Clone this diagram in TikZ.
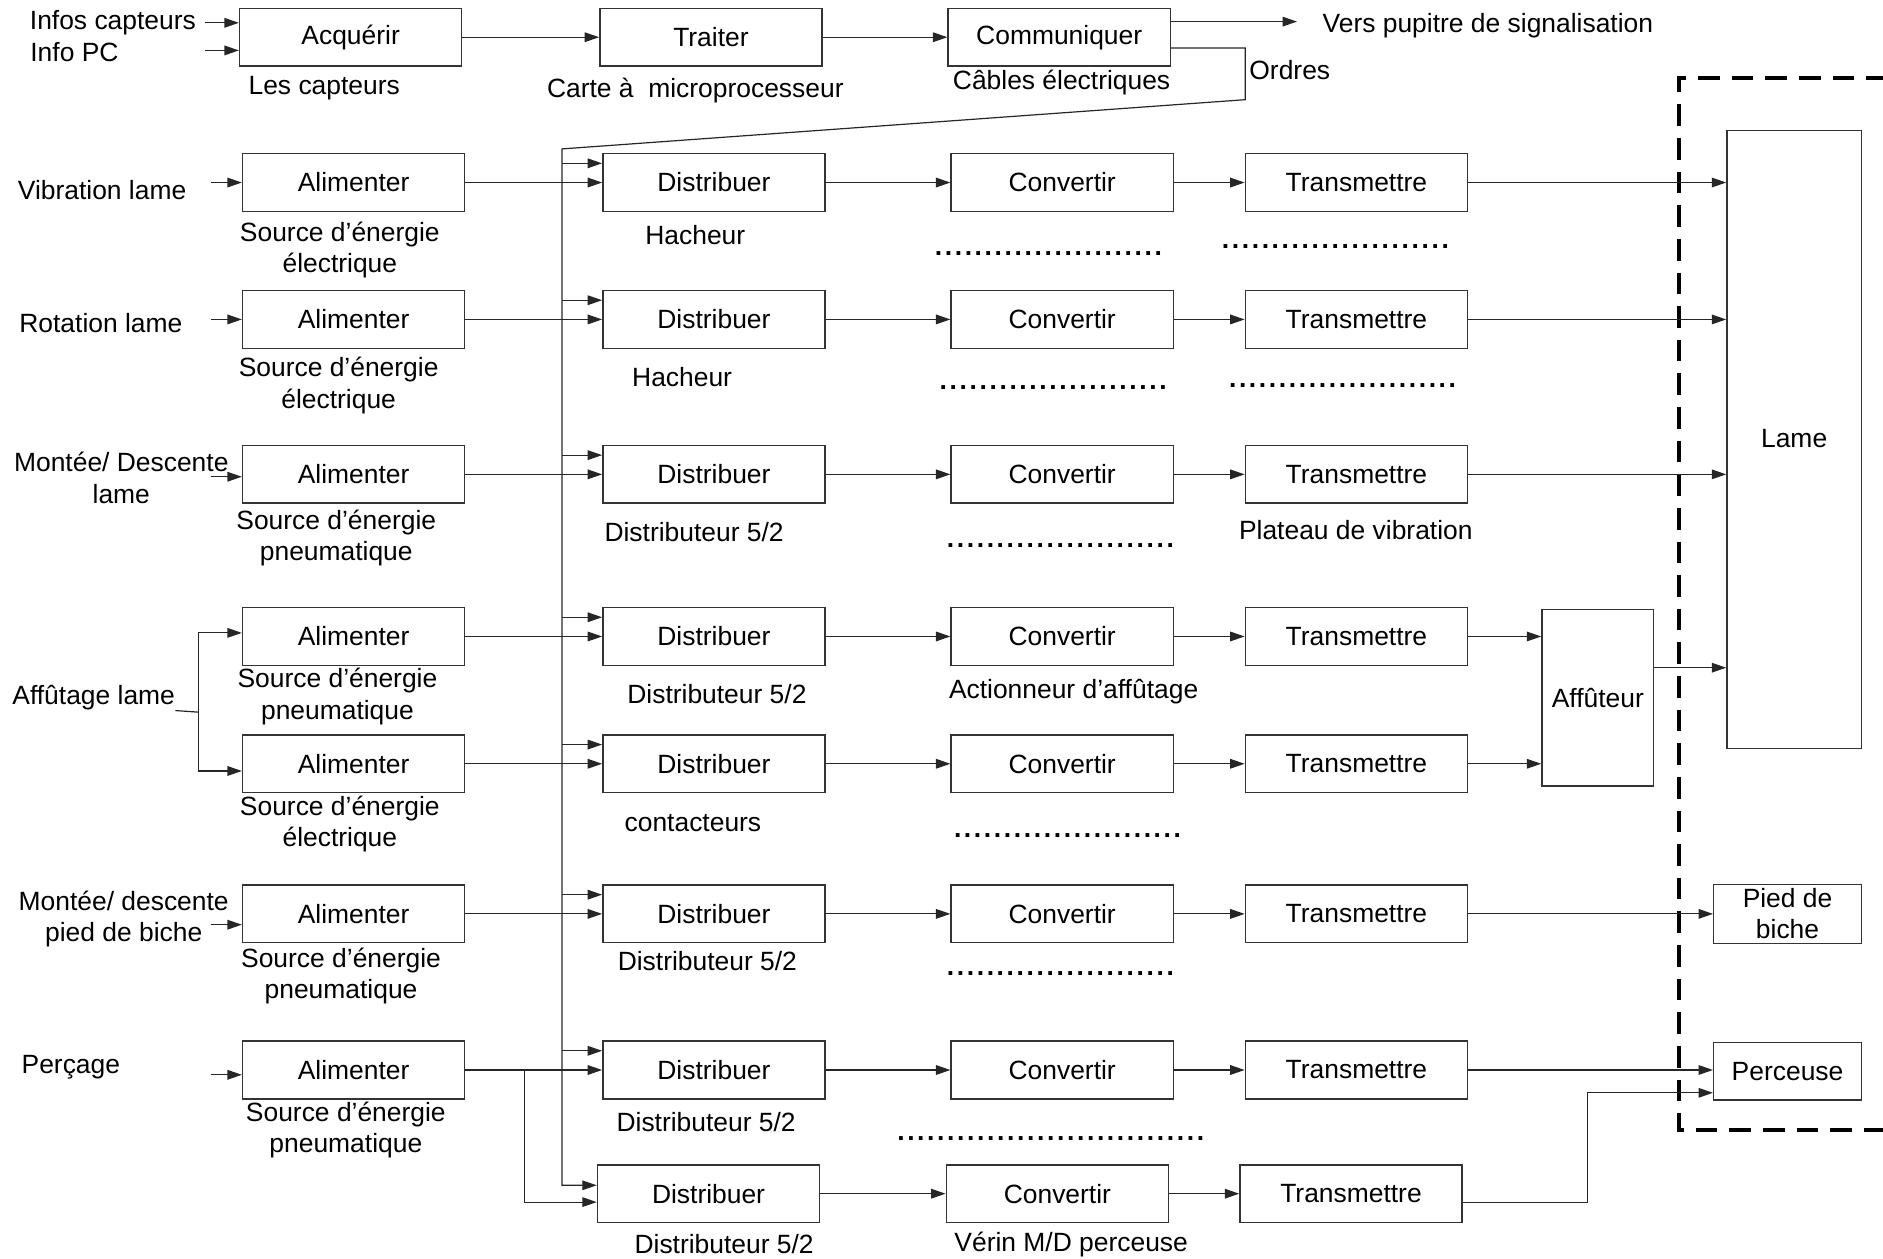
\documentclass[tikz,border=0pt]{standalone}
\usepackage{fontspec}
\setmainfont{Liberation Sans}
\usetikzlibrary{arrows.meta,calc}

\tikzset{
  bloc/.style={draw=black!80,line width=0.6pt,minimum width=92.5pt,minimum height=24pt,inner sep=0pt},
  fl/.style={-{Triangle[length=6pt,width=4pt]},line width=0.5pt,draw=black!85},
  trait/.style={line width=0.5pt,draw=black!85},
  txt/.style={inner sep=0pt,align=center},
  pts/.style={inner sep=0pt,font=\fontsize{11}{13}\selectfont\bfseries},
  cadre/.style={line width=1.4pt,dash pattern=on 9pt off 5pt},
}
\newcommand\pointilles[1]{\foreach \k in {1,...,#1}{.\kern1.1pt}}

\begin{document}
\begin{tikzpicture}[x=0.5pt,y=-0.5pt,font=\fontsize{11}{13}\selectfont]
\useasboundingbox (0,0) rectangle (1568,1048);

% chaine d'information
\node[bloc] (acq) at (292,31) {Acquérir};
\node[bloc] (trt) at (592,31) {Traiter};
\node[bloc] (com) at (882,31) {Communiquer};
\node[txt] (cap1) at (94,19) {Infos capteurs};
\node[txt] (cap2) at (62,43) {Info PC};
\node[txt] (lcap) at (270,73) {Les capteurs};
\node[txt] (lcar) at (579,75) {Carte à\ \ microprocesseur};
\node[txt] (lcab) at (884,69) {Câbles électriques};
\node[txt,anchor=west] (pup) at (1101,21) {Vers pupitre de signalisation};
\node[txt,anchor=west] (ordr) at (1040,58) {Ordres};
\coordinate (vp) at (1080,18);
\coordinate (ord) at (1037,83);
\coordinate (bh) at (468,124);

\draw[fl] ([xshift=-14pt,yshift=6pt]acq.west) -- ([yshift=6pt]acq.west);
\draw[fl] ([xshift=-14pt,yshift=-5.5pt]acq.west) -- ([yshift=-5.5pt]acq.west);
\draw[fl] (acq) -- (trt);
\draw[fl] (trt) -- (com);
\draw[fl] (com.east |- vp) -- (vp);

% entrees
\node[txt] (in1) at (85,158) {Vibration lame};
\node[txt] (in2) at (84,269) {Rotation lame};
\node[txt] (in3) at (101,398) {Montée/ Descente\\lame};
\node[txt] (in4) at (78,581) {Affûtage lame};
\node[txt] (in6) at (103,765) {Montée/ descente\\pied de biche};
\node[txt] (in7) at (59,889) {Perçage};

% ligne 1
\node[bloc] (al1) at (294.5,152) {Alimenter};
\node[bloc] (di1) at (594.5,152) {Distribuer};
\node[bloc] (cv1) at (884.5,152) {Convertir};
\node[bloc] (tr1) at (1129.5,152) {Transmettre};
\node[txt] (s1) at (283,208) {Source d’énergie\\électrique};
\node[txt] (h1) at (579,196) {Hacheur};
\node[pts] (p1a) at (874,211) {\pointilles{23}};
\node[pts] (p1b) at (1113,205) {\pointilles{23}};

% ligne 2
\node[bloc] (al2) at (294.5,266) {Alimenter};
\node[bloc] (di2) at (594.5,266) {Distribuer};
\node[bloc] (cv2) at (884.5,266) {Convertir};
\node[bloc] (tr2) at (1129.5,266) {Transmettre};
\node[txt] (s2) at (282,321) {Source d’énergie\\électrique};
\node[txt] (h2) at (568,314) {Hacheur};
\node[pts] (p2a) at (878,323) {\pointilles{23}};
\node[pts] (p2b) at (1119,321) {\pointilles{23}};

% ligne 3
\node[bloc] (al3) at (294.5,395) {Alimenter};
\node[bloc] (di3) at (594.5,395) {Distribuer};
\node[bloc] (cv3) at (884.5,395) {Convertir};
\node[bloc] (tr3) at (1129.5,395) {Transmettre};
\node[txt] (s3) at (280,448) {Source d’énergie\\pneumatique};
\node[txt] (d3) at (578,443) {Distributeur 5/2};
\node[pts] (p3a) at (884,454) {\pointilles{23}};
\node[txt] (pv) at (1129,441) {Plateau de vibration};

% ligne 4
\node[bloc] (al4) at (294.5,530) {Alimenter};
\node[bloc] (di4) at (594.5,530) {Distribuer};
\node[bloc] (cv4) at (884.5,530) {Convertir};
\node[bloc] (tr4) at (1129.5,530) {Transmettre};
\node[txt] (s4) at (281,580) {Source d’énergie\\pneumatique};
\node[txt] (d4) at (597,578) {Distributeur 5/2};
\node[txt] (aa) at (894,576) {Actionneur d’affûtage};

% ligne 5
\node[bloc] (al5) at (294.5,636) {Alimenter};
\node[bloc] (di5) at (594.5,636) {Distribuer};
\node[bloc] (cv5) at (884.5,636) {Convertir};
\node[bloc] (tr5) at (1129.5,636) {Transmettre};
\node[txt] (s5) at (283,686) {Source d’énergie\\électrique};
\node[txt] (ct) at (577,685) {contacteurs};
\node[pts] (p5a) at (890,696) {\pointilles{23}};

% ligne 6
\node[bloc] (al6) at (294.5,761) {Alimenter};
\node[bloc] (di6) at (594.5,761) {Distribuer};
\node[bloc] (cv6) at (884.5,761) {Convertir};
\node[bloc] (tr6) at (1129.5,761) {Transmettre};
\node[txt] (s6) at (284,813) {Source d’énergie\\pneumatique};
\node[txt] (d6) at (589,800) {Distributeur 5/2};
\node[pts] (p6a) at (884,811) {\pointilles{23}};

% ligne 7
\node[bloc] (al7) at (294.5,891) {Alimenter};
\node[bloc] (di7) at (594.5,891) {Distribuer};
\node[bloc] (cv7) at (884.5,891) {Convertir};
\node[bloc] (tr7) at (1129.5,891) {Transmettre};
\node[txt] (s7) at (288,941) {Source d’énergie\\pneumatique};
\node[txt] (d7) at (588,934) {Distributeur 5/2};
\node[pts] (p7a) at (876,948) {\pointilles{31}};

% ligne 8
\node[bloc] (di8) at (590,994) {Distribuer};
\node[bloc] (cv8) at (880.5,994) {Convertir};
\node[bloc] (tr8) at (1125,994) {Transmettre};
\node[txt] (d8) at (603,1036) {Distributeur 5/2};
\node[txt] (vr) at (892,1036) {Vérin M/D perceuse};

% partie operative
\node[bloc,minimum width=56pt,minimum height=257.5pt] (lame) at (1494,366) {};
\node[txt] (llame) at (1494,365) {Lame};
\node[bloc,minimum width=46.5pt,minimum height=73.5pt] (aff) at (1330.5,581) {Affûteur};
\node[bloc,minimum width=61.5pt,minimum height=24.5pt,align=center] (pied) at (1488.5,761) {Pied de\\biche};
\node[bloc,minimum width=61.5pt,minimum height=24pt] (perc) at (1488.5,892) {Perceuse};
\draw[cadre] (1600,65) -| (1398,941) -- (1600,941);

% ordres et bus
\draw[fl] ([yshift=-4.5pt]com.east) -| (ord) -- (bh) |- ([yshift=3.5pt]di8.west);
\foreach \d in {di1,di2,di3,di4,di5,di6,di7}
  \draw[fl] ([yshift=8pt]\d.west -| bh) -- ([yshift=8pt]\d.west);

% entrees des lignes
\draw[fl] ([xshift=-13pt]al1.west) -- (al1.west);
\draw[fl] ([xshift=-13pt]al2.west) -- (al2.west);
\draw[fl] ([xshift=-13pt,yshift=-1pt]al3.west) -- ([yshift=-1pt]al3.west);
\coordinate (fa) at (165,593);
\draw[trait] (in4.south east) -- (fa);
\draw[fl] (fa) |- ([yshift=1.5pt]al4.west);
\draw[fl] (fa) |- ([yshift=-3pt]al5.west);
\draw[fl] ([xshift=-13pt,yshift=-4.5pt]al6.west) -- ([yshift=-4.5pt]al6.west);
\draw[fl] ([xshift=-13pt,yshift=-2pt]al7.west) -- ([yshift=-2pt]al7.west);

% fleches horizontales
\draw[fl] (al1) -- (di1); \draw[fl] (di1) -- (cv1); \draw[fl] (cv1) -- (tr1);
\draw[fl] (al2) -- (di2); \draw[fl] (di2) -- (cv2); \draw[fl] (cv2) -- (tr2);
\draw[fl] (al3) -- (di3); \draw[fl] (di3) -- (cv3); \draw[fl] (cv3) -- (tr3);
\draw[fl] (al4) -- (di4); \draw[fl] (di4) -- (cv4); \draw[fl] (cv4) -- (tr4);
\draw[fl] (al5) -- (di5); \draw[fl] (di5) -- (cv5); \draw[fl] (cv5) -- (tr5);
\draw[fl] (al6) -- (di6); \draw[fl] (di6) -- (cv6); \draw[fl] (cv6) -- (tr6);
\draw[fl] (al7) -- (di7); \draw[fl] (di7) -- (cv7); \draw[fl] (cv7) -- (tr7);
\draw[fl] (di8) -- (cv8); \draw[fl] (cv8) -- (tr8);
\coordinate (br) at (437,891);
\draw[fl] (br) |- ([yshift=-3.5pt]di8.west);

% vers la partie operative
\draw[fl] (tr1.east) -- (tr1.east -| lame.west);
\draw[fl] (tr2.east) -- (tr2.east -| lame.west);
\draw[fl] (tr3.east) -- (tr3.east -| lame.west);
\draw[fl] (tr4.east) -- (tr4.east -| aff.west);
\draw[fl] (tr5.east) -- (tr5.east -| aff.west);
\draw[fl] ([yshift=12.5pt]aff.east) -- ([yshift=12.5pt]aff.east -| lame.west);
\draw[fl] (tr6) -- (pied);
\draw[fl] (tr7.east) -- (tr7.east -| perc.west);
\coordinate (coude) at (1322,1001);
\draw[fl] ([yshift=-3.5pt]tr8.east) -| ([yshift=-9pt]perc.west -| coude) -- ([yshift=-9pt]perc.west);
\end{tikzpicture}
\end{document}
